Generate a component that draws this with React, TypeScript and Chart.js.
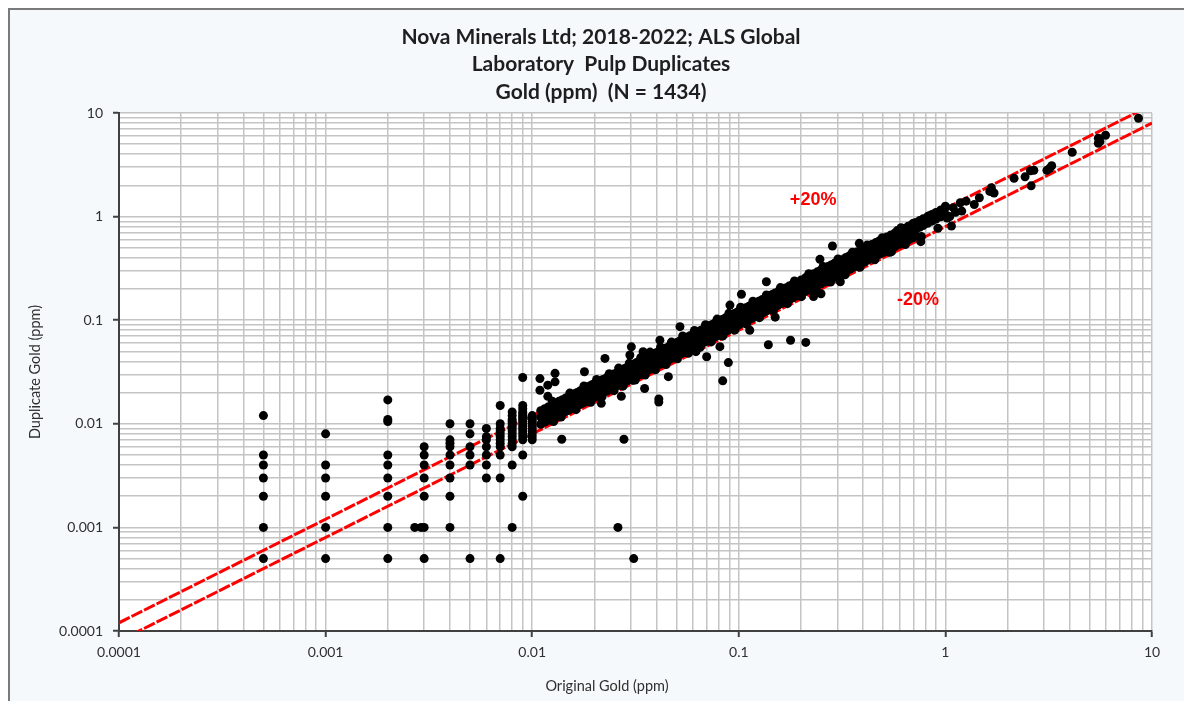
import React, { useEffect, useRef } from 'react';
import { Chart, registerables } from 'chart.js';

Chart.register(...registerables);

// ---- axis ticks ----
const decadeValues = [0.0001, 0.001, 0.01, 0.1, 1, 10];
const decadeLabels = ['0.0001', '0.001', '0.01', '0.1', '1', '10'];
const minorMultipliers = [1, 2, 3, 4, 5, 6, 7, 8, 9];

// ---- text ----
const titleLines = [
  'Nova Minerals Ltd; 2018-2022; ALS Global',
  'Laboratory  Pulp Duplicates',
  'Gold (ppm)  (N = 1434)',
];
const xAxisTitle = 'Original Gold (ppm)';
const yAxisTitle = 'Duplicate Gold (ppm)';

// ---- precision limit lines ----
const upperLimitFactor = 1.2;
const lowerLimitFactor = 0.8;
const limitLineX = [0.0001, 10];
const limitLabels = ['+20%', '-20%'];

// ---- data: [original, [duplicates...]] columns near detection limit ----
const detectionColumns: [number, number[]][] = [
  [0.0005, [0.012, 0.005, 0.004, 0.003, 0.002, 0.001, 0.0005]],
  [0.001, [0.008, 0.004, 0.003, 0.002, 0.001, 0.0005]],
  [0.002, [0.017, 0.011, 0.0105, 0.005, 0.004, 0.003, 0.002, 0.001, 0.0005]],
  [0.003, [0.006, 0.005, 0.004, 0.003, 0.002, 0.001, 0.0005]],
  [0.004, [0.01, 0.007, 0.0065, 0.006, 0.005, 0.004, 0.003, 0.002, 0.001]],
  [0.005, [0.01, 0.008, 0.006, 0.005, 0.004, 0.0005]],
  [0.006, [0.009, 0.0075, 0.007, 0.006, 0.005, 0.004, 0.003]],
  [0.007, [0.015, 0.01, 0.009, 0.0085, 0.008, 0.0075, 0.007, 0.0065, 0.006, 0.005, 0.003, 0.0005]],
  [0.008, [0.013, 0.012, 0.011, 0.0105, 0.01, 0.0095, 0.009, 0.0085, 0.008, 0.0075, 0.007, 0.0065, 0.006, 0.004, 0.001]],
  [0.009, [0.028, 0.015, 0.014, 0.013, 0.0125, 0.012, 0.0115, 0.011, 0.0105, 0.01, 0.0095, 0.009, 0.0085, 0.008, 0.0075, 0.007, 0.005, 0.002]],
  [0.01, [0.012, 0.0115, 0.011, 0.0105, 0.01, 0.0095, 0.009, 0.0085, 0.008, 0.0075, 0.007]],
];

// ---- data: main correlation band [original, [duplicates...]] ----
const bandRows: [number, number[]][] = [
  [0.011, [0.0134, 0.0116, 0.0099]],
  [0.0115, [0.014, 0.0121, 0.0104]],
  [0.012, [0.0146, 0.0126, 0.0108]],
  [0.0125, [0.0153, 0.0131, 0.0113]],
  [0.013, [0.0159, 0.0137, 0.0117]],
  [0.0135, [0.0165, 0.0142, 0.0122]],
  [0.014, [0.0171, 0.0147, 0.0126]],
  [0.0145, [0.0177, 0.0152, 0.0131]],
  [0.015, [0.0183, 0.0158, 0.0135]],
  [0.0155, [0.0189, 0.0163, 0.014]],
  [0.016, [0.0195, 0.0168, 0.0144]],
  [0.0165, [0.0201, 0.0173, 0.0149]],
  [0.017, [0.0207, 0.0179, 0.0153]],
  [0.0175, [0.0214, 0.0184, 0.0158]],
  [0.018, [0.022, 0.0189, 0.0162]],
  [0.0185, [0.0226, 0.0194, 0.0167]],
  [0.019, [0.0232, 0.02, 0.0171]],
  [0.0195, [0.0238, 0.0205, 0.0176]],
  [0.02, [0.0244, 0.021, 0.018, 0.0226]],
  [0.021, [0.0256, 0.0221, 0.0189]],
  [0.022, [0.0268, 0.0231, 0.0198]],
  [0.023, [0.0281, 0.0242, 0.0207]],
  [0.024, [0.0293, 0.0252, 0.0216]],
  [0.025, [0.0305, 0.0263, 0.0225]],
  [0.026, [0.0317, 0.0273, 0.0234]],
  [0.027, [0.0329, 0.0284, 0.0243]],
  [0.028, [0.0342, 0.0294, 0.0252]],
  [0.029, [0.0354, 0.0305, 0.0261]],
  [0.03, [0.0366, 0.0315, 0.027, 0.0339]],
  [0.031, [0.0378, 0.0326, 0.0279]],
  [0.032, [0.039, 0.0336, 0.0288]],
  [0.033, [0.0403, 0.0347, 0.0297]],
  [0.034, [0.0415, 0.0357, 0.0306]],
  [0.035, [0.0427, 0.0368, 0.0315]],
  [0.036, [0.0439, 0.0378, 0.0324]],
  [0.037, [0.0451, 0.0389, 0.0333]],
  [0.038, [0.0464, 0.0399, 0.0342]],
  [0.039, [0.0476, 0.041, 0.0351]],
  [0.04, [0.0488, 0.042, 0.036, 0.0452]],
  [0.042, [0.0512, 0.0441, 0.0378]],
  [0.044, [0.0537, 0.0462, 0.0396]],
  [0.046, [0.0561, 0.0483, 0.0414]],
  [0.048, [0.0586, 0.0504, 0.0432]],
  [0.05, [0.061, 0.0525, 0.045, 0.0565]],
  [0.052, [0.0634, 0.0546, 0.0468]],
  [0.054, [0.0659, 0.0567, 0.0486]],
  [0.056, [0.0683, 0.0588, 0.0504]],
  [0.058, [0.0708, 0.0609, 0.0522]],
  [0.06, [0.0732, 0.063, 0.054, 0.0678]],
  [0.062, [0.0756, 0.0651, 0.0558]],
  [0.064, [0.0781, 0.0672, 0.0576]],
  [0.066, [0.0805, 0.0693, 0.0594]],
  [0.068, [0.083, 0.0714, 0.0612]],
  [0.07, [0.0854, 0.0735, 0.063, 0.0791]],
  [0.072, [0.0878, 0.0756, 0.0648]],
  [0.074, [0.0903, 0.0777, 0.0666]],
  [0.076, [0.0927, 0.0798, 0.0684]],
  [0.078, [0.0952, 0.0819, 0.0702]],
  [0.08, [0.0976, 0.084, 0.072, 0.0904]],
  [0.083, [0.1013, 0.0872, 0.0747]],
  [0.086, [0.1049, 0.0903, 0.0774]],
  [0.089, [0.1086, 0.0935, 0.0801]],
  [0.092, [0.1122, 0.0966, 0.0828]],
  [0.095, [0.1159, 0.0998, 0.0855]],
  [0.098, [0.1196, 0.1029, 0.0882]],
  [0.1, [0.122, 0.105, 0.09, 0.113]],
  [0.104, [0.1269, 0.1092, 0.0936]],
  [0.108, [0.1318, 0.1134, 0.0972]],
  [0.112, [0.1366, 0.1176, 0.1008]],
  [0.116, [0.1415, 0.1218, 0.1044]],
  [0.12, [0.1464, 0.126, 0.108, 0.1356]],
  [0.125, [0.1525, 0.1313, 0.1125]],
  [0.13, [0.1586, 0.1365, 0.117]],
  [0.135, [0.1647, 0.1418, 0.1215]],
  [0.14, [0.1708, 0.147, 0.126]],
  [0.145, [0.1769, 0.1523, 0.1305]],
  [0.15, [0.183, 0.1575, 0.135, 0.1695]],
  [0.156, [0.1903, 0.1638, 0.1404]],
  [0.162, [0.1976, 0.1701, 0.1458]],
  [0.168, [0.205, 0.1764, 0.1512]],
  [0.175, [0.2135, 0.1838, 0.1575]],
  [0.182, [0.222, 0.1911, 0.1638]],
  [0.19, [0.2318, 0.1995, 0.171]],
  [0.2, [0.244, 0.21, 0.18, 0.226]],
  [0.21, [0.2562, 0.2205, 0.189]],
  [0.22, [0.2684, 0.231, 0.198]],
  [0.23, [0.2806, 0.2415, 0.207]],
  [0.24, [0.2928, 0.252, 0.216]],
  [0.25, [0.305, 0.2625, 0.225]],
  [0.26, [0.3172, 0.273, 0.234]],
  [0.27, [0.3294, 0.2835, 0.243]],
  [0.28, [0.3416, 0.294, 0.252]],
  [0.29, [0.3538, 0.3045, 0.261]],
  [0.3, [0.366, 0.315, 0.27, 0.339]],
  [0.315, [0.3843, 0.3308, 0.2835]],
  [0.33, [0.4026, 0.3465, 0.297]],
  [0.345, [0.4209, 0.3623, 0.3105]],
  [0.36, [0.4392, 0.378, 0.324]],
  [0.375, [0.4575, 0.3938, 0.3375]],
  [0.39, [0.4758, 0.4095, 0.351]],
  [0.405, [0.4941, 0.4253, 0.3645]],
  [0.42, [0.5124, 0.441, 0.378]],
  [0.44, [0.5368, 0.462, 0.396]],
  [0.46, [0.5612, 0.483, 0.414]],
  [0.48, [0.5856, 0.504, 0.432]],
  [0.5, [0.61, 0.525, 0.45, 0.565]],
  [0.52, [0.6344, 0.546, 0.468]],
  [0.545, [0.6649, 0.5723, 0.4905]],
  [0.57, [0.6954, 0.5985, 0.513]],
  [0.6, [0.732, 0.63, 0.54]],
  [0.63, [0.7686, 0.6615, 0.567]],
  [0.66, [0.8052, 0.693, 0.594]],
  [0.69, [0.8418, 0.7245, 0.621]],
  [0.72, [0.8784, 0.756, 0.648]],
  [0.75, [0.915, 0.7875]],
  [0.78, [0.9516, 0.819]],
  [0.82, [1.0004, 0.861]],
  [0.86, [1.0492, 0.903]],
  [0.9, [1.098, 0.945]],
  [0.95, [1.159, 0.9975]],
  [1.0, [1.22, 1.05]],
];

// ---- data: looser points along the edges of the band [original, duplicate] ----
const bandEdgePairs: [number, number][] = [
  [0.0125, 0.0165], [0.0138, 0.0116], [0.0152, 0.0198], [0.0163, 0.0137], [0.0178, 0.0232],
  [0.0192, 0.0161], [0.0205, 0.0268], [0.0218, 0.0183], [0.0236, 0.0305], [0.0249, 0.0209],
  [0.0262, 0.0345], [0.0275, 0.0231], [0.0295, 0.0385], [0.0315, 0.0265], [0.0335, 0.0435],
  [0.0352, 0.0296], [0.0372, 0.0492], [0.0395, 0.0332], [0.0418, 0.0548], [0.0445, 0.0374],
  [0.0472, 0.0615], [0.0505, 0.0424], [0.0535, 0.0705], [0.057, 0.0479], [0.061, 0.0795],
  [0.065, 0.0546], [0.069, 0.0905], [0.0735, 0.0617], [0.0785, 0.1025], [0.0835, 0.0701],
  [0.0895, 0.1165], [0.0955, 0.0802], [0.102, 0.1335], [0.109, 0.0916], [0.117, 0.1525],
  [0.126, 0.1058], [0.136, 0.1755], [0.147, 0.1235], [0.159, 0.2065], [0.172, 0.1445],
  [0.186, 0.2395], [0.201, 0.1688], [0.218, 0.2815], [0.236, 0.1982], [0.256, 0.3305],
  [0.278, 0.2335], [0.302, 0.3895], [0.327, 0.2747], [0.355, 0.4535], [0.386, 0.3242],
  [0.418, 0.5305], [0.455, 0.3822], [0.495, 0.6245], [0.538, 0.4519], [0.585, 0.7325],
  [0.64, 0.5376], [0.7, 0.8645], [0.765, 0.6426], [0.835, 1.0205], [0.92, 0.7728],
];

// ---- data: higher grade pairs [original, duplicate] ----
const highGradePairs: [number, number][] = [
  [1.0, 1.26], [1.02, 0.97], [1.05, 1.0], [1.07, 0.81], [1.09, 1.22], [1.12, 1.1],
  [1.18, 1.36], [1.2, 1.13], [1.26, 1.41], [1.38, 1.31], [1.46, 1.52], [1.64, 1.75],
  [1.67, 1.9], [1.72, 1.69], [2.15, 2.34], [2.43, 2.42], [2.58, 2.77], [2.68, 2.8],
  [2.6, 1.98], [3.1, 2.8], [3.2, 2.93], [3.27, 3.1], [4.11, 4.18], [5.5, 5.7],
  [5.6, 5.3], [5.96, 6.1], [5.5, 5.1], [8.6, 8.9],
];

// ---- data: scattered pairs off the main trend [original, duplicate] ----
const outlierPairs: [number, number][] = [
  [0.0027, 0.001], [0.0029, 0.001],
  [0.0109, 0.0273], [0.0109, 0.0211], [0.0119, 0.0236], [0.0119, 0.0184],
  [0.0129, 0.0307], [0.0129, 0.0254], [0.0179, 0.0318], [0.0225, 0.0428],
  [0.0297, 0.0462], [0.0302, 0.0553], [0.0344, 0.0496], [0.0415, 0.0642],
  [0.0519, 0.0866], [0.0906, 0.14], [0.103, 0.178], [0.136, 0.235],
  [0.247, 0.387], [0.284, 0.52], [0.383, 0.552], [0.61, 0.78],
  [0.0139, 0.0071], [0.0278, 0.0071], [0.026, 0.001], [0.031, 0.0005],
  [0.041, 0.0174], [0.041, 0.0162], [0.035, 0.0219], [0.0307, 0.0263],
  [0.027, 0.0184], [0.0216, 0.0158], [0.0127, 0.0105], [0.0456, 0.0285],
  [0.0836, 0.026], [0.089, 0.039], [0.139, 0.058], [0.178, 0.064],
  [0.211, 0.061], [0.23, 0.169], [0.25, 0.18], [0.31, 0.235],
  [0.15, 0.107], [0.17, 0.151], [0.113, 0.08], [0.081, 0.0555],
  [0.0699, 0.0444], [0.062, 0.0497], [0.549, 0.459], [0.76, 0.573],
];

// ---- build plot data ----
const assayPoints = [
  ...detectionColumns.flatMap(([x, ys]) => ys.map((y) => ({ x, y }))),
  ...bandRows.flatMap(([x, ys]) => ys.map((y) => ({ x, y }))),
  ...bandEdgePairs.map(([x, y]) => ({ x, y })),
  ...highGradePairs.map(([x, y]) => ({ x, y })),
  ...outlierPairs.map(([x, y]) => ({ x, y })),
];

type LogTick = { value: number; dec?: string };
const buildLogTicks = (): LogTick[] => {
  const list: LogTick[] = [];
  decadeValues.forEach((d, i) => {
    if (i === decadeValues.length - 1) {
      list.push({ value: d, dec: decadeLabels[i] });
      return;
    }
    minorMultipliers.forEach((m) => {
      const v = Number((m * d).toPrecision(6));
      list.push(m === 1 ? { value: v, dec: decadeLabels[i] } : { value: v });
    });
  });
  return list;
};

const FONT = 'Lato, "Open Sans", "DejaVu Sans", sans-serif';

const backgroundPlugin = {
  id: 'plotBackground',
  beforeDraw(chart: any) {
    const { ctx, chartArea } = chart;
    ctx.save();
    ctx.fillStyle = '#ffffff';
    ctx.fillRect(chartArea.left, chartArea.top, chartArea.right - chartArea.left, chartArea.bottom - chartArea.top);
    ctx.restore();
  },
};

const annotationPlugin = {
  id: 'annotations',
  afterDraw(chart: any) {
    const { ctx, scales } = chart;
    ctx.save();
    // title
    ctx.fillStyle = '#1e1e1e';
    ctx.font = `bold 21px ${FONT}`;
    ctx.textAlign = 'center';
    ctx.textBaseline = 'middle';
    const titleY = [27, 54, 82];
    titleLines.forEach((t, i) => ctx.fillText(t, 591, titleY[i]));
    // axis titles
    ctx.fillStyle = '#303030';
    ctx.font = `14.5px ${FONT}`;
    ctx.fillText(xAxisTitle, 597, 676);
    ctx.save();
    ctx.translate(25, 362);
    ctx.rotate(-Math.PI / 2);
    ctx.fillText(yAxisTitle, 0, 0);
    ctx.restore();
    // limit labels
    ctx.fillStyle = '#ff0000';
    ctx.font = 'bold 18px "Liberation Sans", Arial, sans-serif';
    const labelPos = [
      { x: 0.229, y: 1.45 },
      { x: 0.736, y: 0.157 },
    ];
    limitLabels.forEach((t, i) => {
      const px = scales.x.getPixelForValue(labelPos[i].x);
      const py = scales.y.getPixelForValue(labelPos[i].y);
      ctx.fillText(t, px, py);
    });
    ctx.restore();
  },
};

const axisCommon = (isY: boolean) => ({
  type: 'logarithmic' as const,
  min: 0.0001,
  max: 10,
  afterBuildTicks: (scale: any) => {
    scale.ticks = buildLogTicks();
  },
  afterFit: (scale: any) => {
    if (isY) scale.width = 109;
    else scale.height = 70;
  },
  ticks: {
    autoSkip: false,
    maxRotation: 0,
    minRotation: 0,
    padding: isY ? 10 : 7,
    color: '#303030',
    font: { family: FONT, size: 14 },
    callback: (_v: any, index: number, ticks: any[]) => (ticks[index] && ticks[index].dec) || '',
  },
  grid: {
    color: '#c4c4c4',
    lineWidth: 1.5,
    drawTicks: true,
    tickLength: 6,
    tickWidth: 2,
    tickColor: (ctx: any) => (ctx.tick && ctx.tick.dec ? '#404040' : 'rgba(0,0,0,0)'),
  },
  border: { display: true, color: '#404040', width: 2 },
  title: { display: false },
});

export default function App() {
  const canvasRef = useRef<HTMLCanvasElement>(null);

  useEffect(() => {
    if (!canvasRef.current) return;
    const chart = new Chart(canvasRef.current, {
      type: 'scatter',
      data: {
        datasets: [
          {
            label: 'Pulp duplicates',
            data: assayPoints,
            backgroundColor: '#000000',
            borderWidth: 0,
            pointRadius: 4.5,
            pointHoverRadius: 4.5,
          },
          {
            label: '+20%',
            data: limitLineX.map((x) => ({ x, y: x * upperLimitFactor })),
            showLine: true,
            borderColor: '#ff0000',
            borderWidth: 3,
            borderDash: [12, 2],
            pointRadius: 0,
            fill: false,
          },
          {
            label: '-20%',
            data: limitLineX.map((x) => ({ x, y: x * lowerLimitFactor })),
            showLine: true,
            borderColor: '#ff0000',
            borderWidth: 3,
            borderDash: [12, 2],
            pointRadius: 0,
            fill: false,
          },
        ],
      },
      options: {
        animation: false,
        responsive: false,
        devicePixelRatio: 1,
        layout: { padding: { top: 103, right: 40, bottom: 0, left: 0 } },
        plugins: {
          legend: { display: false },
          tooltip: { enabled: false },
          title: { display: false },
        },
        scales: {
          x: axisCommon(false) as any,
          y: axisCommon(true) as any,
        },
      },
      plugins: [backgroundPlugin, annotationPlugin],
    });
    return () => chart.destroy();
  }, []);

  return (
    <div
      style={{
        width: 1184,
        height: 693,
        boxSizing: 'border-box',
        borderLeft: '2px solid #7a7a7a',
        borderTop: '2px solid #7a7a7a',
        background: '#f5f9fb',
        position: 'relative',
      }}
    >
      <canvas ref={canvasRef} width={1182} height={691} style={{ display: 'block' }} />
    </div>
  );
}
